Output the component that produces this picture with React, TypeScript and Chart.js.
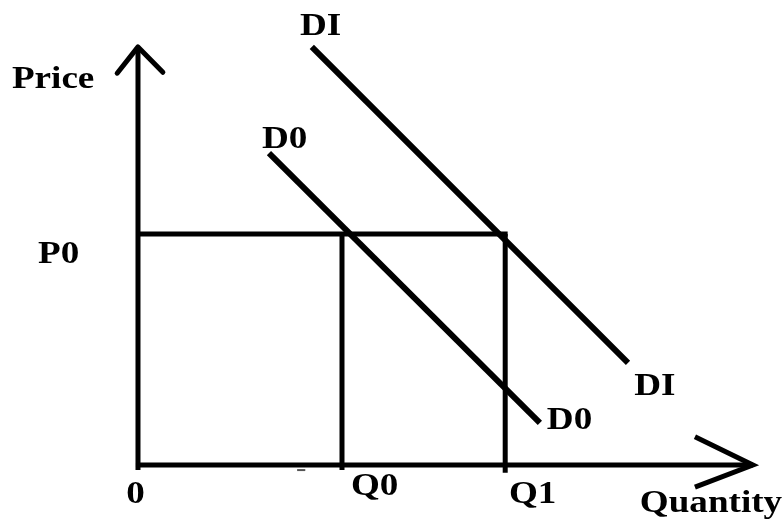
import React, { useEffect, useRef } from "react";
import { Chart, registerables } from "chart.js";

Chart.register(...registerables);

// Demand curves (quantity, price) in chart units
const d0Quantity = [3.21, 9.85];
const d0Price = [6.75, 0.91];
const d1Quantity = [4.26, 12.01];
const d1Price = [9.05, 2.21];

// Equilibrium reference values
const p0 = 5;
const q0 = 5;
const q1 = 9;

// Axis extents
const xAxisEnd = 15.07;
const yAxisEnd = 9.05;
const xArrowWingX = [13.65, 13.65];
const xArrowWingY = [0.61, -0.48];
const yArrowWingX = [-0.51, 0.61];
const yArrowWingY = [8.48, 8.5];

// Stray dash near the quantity axis
const dashX = [3.9, 4.1];
const dashY = [-0.11, -0.11];

// Text labels: text, x, y (left, baseline)
const labelTexts = ["Price", "DI", "D0", "P0", "0", "Q0", "Q1", "Quantity", "DI", "D0"];
const labelX = [-3.09, 3.97, 3.04, -2.45, -0.29, 5.22, 9.09, 12.3, 12.16, 10.02];
const labelY = [8.16, 9.31, 6.86, 4.37, -0.82, -0.65, -0.82, -1.02, 1.52, 0.78];

const seg = (xs: number[], ys: number[]) => xs.map((x, i) => ({ x, y: ys[i] }));

export default function App() {
  const ref = useRef<HTMLCanvasElement | null>(null);

  useEffect(() => {
    if (!ref.current) return;
    const black = "#000000";
    const base = {
      showLine: true,
      pointRadius: 0,
      borderColor: black,
      backgroundColor: black,
      borderWidth: 5,
      fill: false,
      tension: 0,
    };

    const labelPlugin = {
      id: "labels",
      afterDatasetsDraw(chart: any) {
        const { ctx, scales } = chart;
        ctx.save();
        ctx.fillStyle = "#000";
        ctx.font = "bold 32px 'Liberation Serif', 'Times New Roman', serif";
        ctx.textBaseline = "alphabetic";
        ctx.textAlign = "left";
        const sx = 1.16;
        labelTexts.forEach((t, i) => {
          const px = scales.x.getPixelForValue(labelX[i]);
          const py = scales.y.getPixelForValue(labelY[i]);
          ctx.save();
          ctx.translate(px, py);
          ctx.scale(sx, 1);
          ctx.fillText(t, 0, 0);
          ctx.restore();
        });
        ctx.restore();
      },
    };

    const chart = new Chart(ref.current, {
      type: "scatter",
      data: {
        datasets: [
          // axes
          { ...base, data: seg([0, 0], [-0.11, yAxisEnd]), borderCapStyle: "butt" },
          { ...base, data: seg([-0.05, xAxisEnd], [0, 0]), borderCapStyle: "butt" },
          { ...base, data: seg([yArrowWingX[0], 0, yArrowWingX[1]], [yArrowWingY[0], yAxisEnd, yArrowWingY[1]]), borderCapStyle: "round", borderJoinStyle: "round" },
          { ...base, data: seg([xArrowWingX[0], xAxisEnd, xArrowWingX[1]], [xArrowWingY[0], 0, xArrowWingY[1]]), borderCapStyle: "butt", borderJoinStyle: "miter" },
          // equilibrium lines
          { ...base, data: seg([0, q1 + 0.06], [p0, p0]), borderCapStyle: "butt" },
          { ...base, data: seg([q0, q0], [p0, -0.11]), borderCapStyle: "butt" },
          { ...base, data: seg([q1, q1], [p0, -0.17]), borderCapStyle: "butt" },
          // demand curves
          { ...base, data: seg(d0Quantity, d0Price), borderWidth: 6, borderCapStyle: "butt" },
          { ...base, data: seg(d1Quantity, d1Price), borderWidth: 6, borderCapStyle: "butt" },
          // stray dash
          { ...base, data: seg(dashX, dashY), borderWidth: 2, borderColor: "#555" },
        ] as any,
      },
      options: {
        animation: false,
        responsive: false,
        maintainAspectRatio: false,
        devicePixelRatio: 1,
        layout: { padding: 0 },
        plugins: { legend: { display: false }, tooltip: { enabled: false }, title: { display: false } },
        scales: {
          x: { type: "linear", display: false, min: -3.382, max: 15.784 },
          y: { type: "linear", display: false, min: -1.169, max: 10.065 },
        },
      } as any,
      plugins: [labelPlugin],
    });
    return () => chart.destroy();
  }, []);

  return (
    <div style={{ position: "fixed", left: 0, top: 0, width: 782, height: 519, background: "#fff" }}>
      <canvas ref={ref} width={782} height={519} style={{ width: 782, height: 519, display: "block" }} />
    </div>
  );
}
